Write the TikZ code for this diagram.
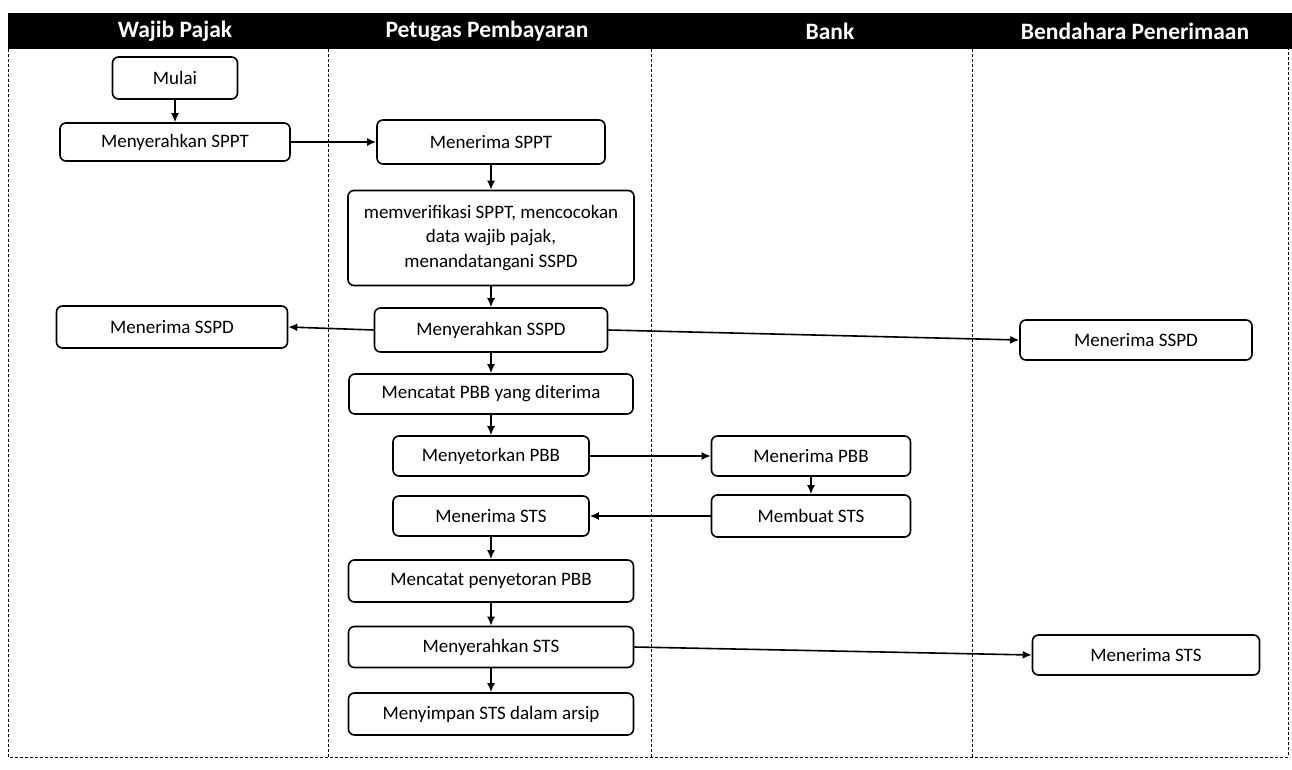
\documentclass[tikz,border=0pt]{standalone}
\usepackage{fontspec}
\setmainfont{Carlito}
\usetikzlibrary{arrows.meta,shapes}

\begin{document}
\begin{tikzpicture}[x=1pt,y=-1pt]
	
	\tikzset{vertex/.style = {shape=rectangle,rounded corners=6pt,draw,line width=1.6pt,fill=white,align=center,inner sep=2pt,font=\fontsize{19}{24.5}\selectfont}}
	\tikzset{edge/.style = {-{Latex[length=9pt,width=8pt]},line width=1.6pt}}
	\tikzset{lane/.style = {dash pattern=on 3pt off 2pt,line width=1pt}}
	\tikzset{head/.style = {text=white,font=\fontsize{23.5}{23.5}\selectfont\bfseries}}
	
	\useasboundingbox (0,0) rectangle (1292,770);
	\fill (8,13) rectangle (1292,49);
	\draw[lane] (8,49) -- (8,757) -- (1288,757) -- (1288,49);
	\draw[lane] (328,49) -- (328,757);
	\draw[lane] (651,49) -- (651,757);
	\draw[lane] (972,49) -- (972,757);
	
	\node[head] (h1) at (175,31) {Wajib Pajak};
	\node[head] (h2) at (487,31) {Petugas Pembayaran};
	\node[head] (h3) at (830,31) {Bank};
	\node[head] (h4) at (1135,31) {Bendahara Penerimaan};
	
	\node[vertex,minimum width=125pt,minimum height=42pt] (w1) at (175,78) {Mulai};
	\node[vertex,minimum width=230pt,minimum height=38pt] (w2) at (175,142) {Menyerahkan SPPT};
	\node[vertex,minimum width=231pt,minimum height=42pt] (w3) at (172,327) {Menerima SSPD};
	
	\node[vertex,minimum width=228pt,minimum height=44pt] (p1) at (491,142) {Menerima SPPT};
	\node[vertex,minimum width=286pt,minimum height=95pt] (p2) at (491,238) {memverifikasi SPPT, mencocokan\\data wajib pajak,\\menandatangani SSPD};
	\node[vertex,minimum width=233pt,minimum height=44pt] (p3) at (491,330) {Menyerahkan SSPD};
	\node[vertex,minimum width=284pt,minimum height=40pt] (p4) at (491,394) {Mencatat PBB yang diterima};
	\node[vertex,minimum width=196pt,minimum height=40pt] (p5) at (491,456) {Menyetorkan PBB};
	\node[vertex,minimum width=196pt,minimum height=40pt] (p6) at (491,516) {Menerima STS};
	\node[vertex,minimum width=285pt,minimum height=42pt] (p7) at (491,581) {Mencatat penyetoran PBB};
	\node[vertex,minimum width=285pt,minimum height=41pt] (p8) at (491,647) {Menyerahkan STS};
	\node[vertex,minimum width=285pt,minimum height=42pt] (p9) at (491,714) {Menyimpan STS dalam arsip};
	
	\node[vertex,minimum width=199pt,minimum height=40pt] (k1) at (811,456) {Menerima PBB};
	\node[vertex,minimum width=199pt,minimum height=42pt] (k2) at (811,516) {Membuat STS};
	
	\node[vertex,minimum width=232pt,minimum height=40pt] (r1) at (1136,340) {Menerima SSPD};
	\node[vertex,minimum width=227pt,minimum height=40pt] (r2) at (1146,655) {Menerima STS};
	
	\draw[edge] (w1) to (w2);
	\draw[edge] (w2) to (p1);
	\draw[edge] (p1) to (p2);
	\draw[edge] (p2) to (p3);
	\draw[edge] (p3.west) to (w3.east);
	\draw[edge] (p3.east) to (r1.west);
	\draw[edge] (p3) to (p4);
	\draw[edge] (p4) to (p5);
	\draw[edge] (p5) to (k1);
	\draw[edge] (k1) to (k2);
	\draw[edge] (k2) to (p6);
	\draw[edge] (p6) to (p7);
	\draw[edge] (p7) to (p8);
	\draw[edge] (p8.east) to (r2.west);
	\draw[edge] (p8) to (p9);
\end{tikzpicture}
\end{document}
